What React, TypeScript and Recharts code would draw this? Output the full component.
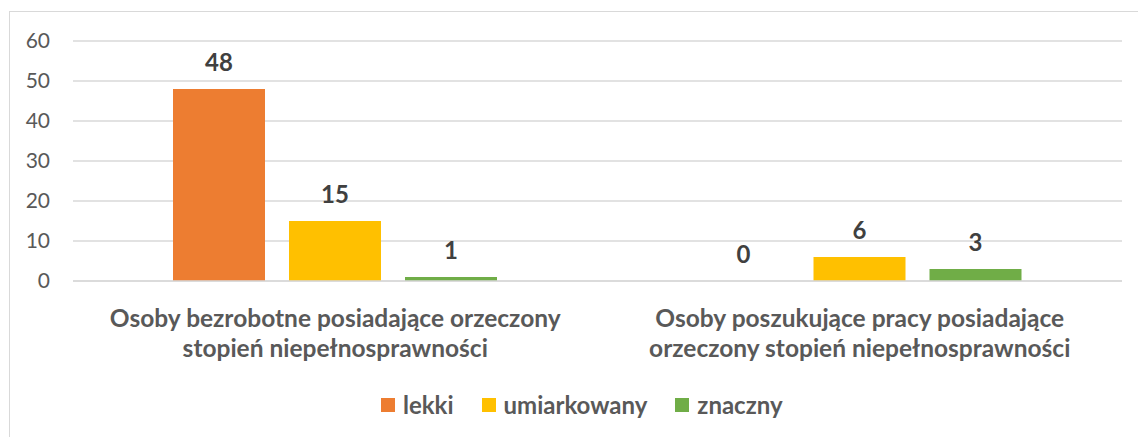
import React from 'react';
import { BarChart, Bar, XAxis, YAxis, CartesianGrid, LabelList } from 'recharts';

const categories = [
  'Osoby bezrobotne posiadające orzeczony stopień niepełnosprawności',
  'Osoby poszukujące pracy posiadające orzeczony stopień niepełnosprawności',
];
const categoryLines: string[][] = [
  ['Osoby bezrobotne posiadające orzeczony', 'stopień niepełnosprawności'],
  ['Osoby poszukujące pracy posiadające', 'orzeczony stopień niepełnosprawności'],
];
const lekki = [48, 0];
const umiarkowany = [15, 6];
const znaczny = [1, 3];
const yTicks = [0, 10, 20, 30, 40, 50, 60];

const seriesNames = ['lekki', 'umiarkowany', 'znaczny'];
const seriesColors = ['#ED7D31', '#FFC000', '#70AD47'];

const data = categories.map((c, i) => ({
  name: c,
  lekki: lekki[i],
  umiarkowany: umiarkowany[i],
  znaczny: znaczny[i],
}));

const FONT = 'Lato, "Liberation Sans", sans-serif';

const CatTick = (props: any) => {
  const { x, y, index } = props;
  const lines = categoryLines[index] || [];
  return (
    <g>
      {lines.map((l, k) => (
        <text
          key={k}
          x={x}
          y={y + 38 + k * 30}
          textAnchor="middle"
          fill="#595959"
          fontFamily={FONT}
          fontWeight={700}
          fontSize={24.5}
        >
          {l}
        </text>
      ))}
    </g>
  );
};

const LegendContent = () => (
  <div
    style={{
      position: 'absolute',
      left: 381,
      top: 394,
      display: 'flex',
      alignItems: 'center',
      fontFamily: FONT,
      fontWeight: 700,
      fontSize: 24,
      color: '#595959',
      whiteSpace: 'nowrap',
      lineHeight: '22px',
    }}
  >
    {seriesNames.map((n, i) => (
      <div key={n} style={{ display: 'flex', alignItems: 'center', marginRight: 28 }}>
        <div style={{ width: 14, height: 14, background: seriesColors[i], marginRight: 8 }} />
        <span>{n}</span>
      </div>
    ))}
  </div>
);

export default function App() {
  return (
    <div style={{ position: 'absolute', left: 0, top: 0, width: 1138, height: 437, background: '#fff' }}>
      <div
        style={{
          position: 'absolute',
          left: 9,
          top: 11,
          width: 1140,
          height: 440,
          border: '1px solid #D9D9D9',
          boxSizing: 'border-box',
        }}
      />
      <LegendContent />
      <BarChart
        width={1138}
        height={437}
        data={data}
        margin={{ top: 41, right: 16, bottom: 56, left: 13 }}
        barSize={92}
        barGap={24}
        style={{ position: 'absolute', left: 0, top: 0 }}
      >
        <CartesianGrid vertical={false} stroke="#D9D9D9" strokeWidth={1.5} />
        <XAxis
          dataKey="name"
          height={100}
          axisLine={{ stroke: '#D9D9D9', strokeWidth: 1.5 }}
          tickLine={false}
          tick={<CatTick />}
          interval={0}
        />
        <YAxis
          width={60}
          domain={[0, 60]}
          ticks={yTicks}
          axisLine={false}
          tickLine={false}
          tickSize={0}
          tickMargin={23}
          tick={{ fill: '#595959', fontSize: 21, fontFamily: FONT }}
        />
        {seriesNames.map((n, i) => (
          <Bar key={n} dataKey={n} fill={seriesColors[i]} minPointSize={0.01} isAnimationActive={false}>
            <LabelList
              dataKey={n}
              position="top"
              offset={18}
              fill="#404040"
              fontSize={24}
              fontWeight={700}
              fontFamily={FONT}
            />
          </Bar>
        ))}
      </BarChart>
    </div>
  );
}
